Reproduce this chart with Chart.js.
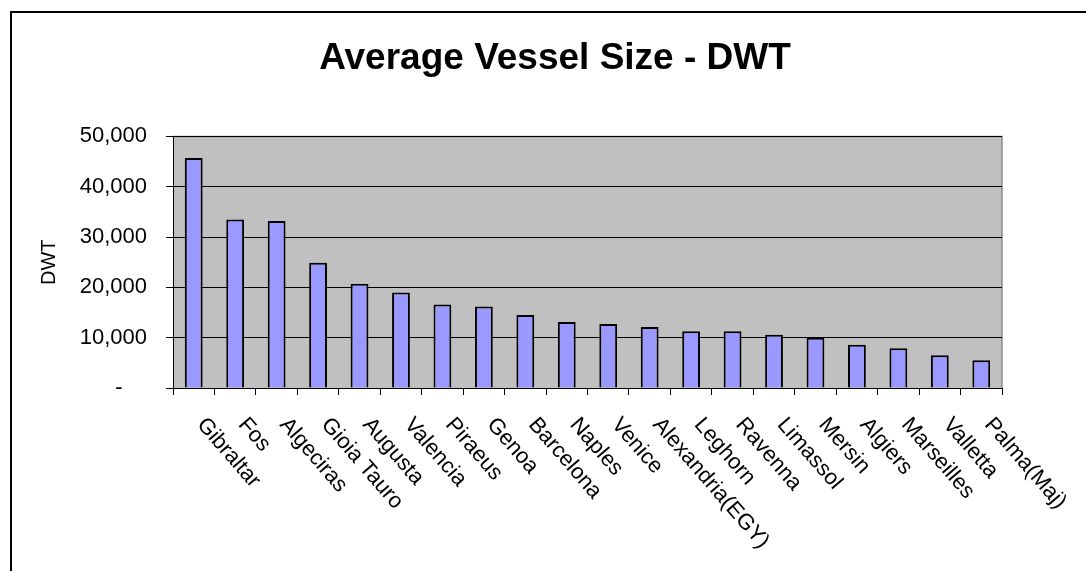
<!DOCTYPE html>
<html>
<head>
<meta charset="utf-8">
<title>Average Vessel Size - DWT</title>
<script src="https://cdn.jsdelivr.net/npm/chart.js@4"></script>
<style>
    html, body { margin: 0; padding: 0; background: #fff; overflow: hidden; }
    canvas { display: block; }
</style>
</head>
<body>
<canvas id="dwtChart" width="1086" height="571"></canvas>
<script>
// Ports and average vessel size
const ports = ["Gibraltar", "Fos", "Algeciras", "Gioia Tauro", "Augusta", "Valencia", "Piraeus", "Genoa",
    "Barcelona", "Naples", "Venice", "Alexandria(EGY)", "Leghorn", "Ravenna", "Limassol", "Mersin",
    "Algiers", "Marseilles", "Valletta", "Palma(Maj)"];
const avgDwt = [45700, 33500, 33200, 24900, 20700, 19000, 16600, 16200,
    14500, 13100, 12700, 12100, 11300, 11300, 10600, 10000,
    8600, 7900, 6500, 5500];
const yTicks = [0, 10000, 20000, 30000, 40000, 50000];

const FONT = "'Liberation Sans', Arial, Helvetica, sans-serif";
Chart.defaults.font.family = FONT;
Chart.defaults.color = '#000';

// white page, outer chart frame and the grey plot area (Excel look)
const frame = {
    id: 'frame',
    beforeDraw(chart) {
        const ctx = chart.ctx;
        const a = chart.chartArea;
        ctx.save();
        ctx.fillStyle = '#fff';
        ctx.fillRect(0, 0, chart.width, chart.height);
        ctx.strokeStyle = '#000';
        ctx.lineWidth = 2;
        ctx.beginPath();
        ctx.moveTo(11, chart.height + 5);
        ctx.lineTo(11, 12);
        ctx.lineTo(chart.width + 5, 12);
        ctx.stroke();
        ctx.fillStyle = '#c0c0c0';
        ctx.fillRect(a.left, a.top, a.right - a.left, a.bottom - a.top);
        ctx.strokeStyle = '#8c8c8c';
        ctx.lineWidth = 1.5;
        ctx.beginPath();
        ctx.moveTo(a.left, a.top);
        ctx.lineTo(a.right, a.top);
        ctx.lineTo(a.right, a.bottom);
        ctx.stroke();
        ctx.restore();
    }
};

// category labels slanted downwards like the original
const slantLabels = {
    id: 'slantLabels',
    afterDraw(chart) {
        const ctx = chart.ctx;
        const xs = chart.scales.x;
        ctx.save();
        ctx.font = '22px ' + FONT;
        ctx.fillStyle = '#000';
        ctx.textAlign = 'left';
        ctx.textBaseline = 'middle';
        ports.forEach((name, i) => {
            ctx.save();
            ctx.translate(xs.getPixelForValue(i) + 7, 421);
            ctx.rotate(49 * Math.PI / 180);
            ctx.fillText(name, 0, 0);
            ctx.restore();
        });
        ctx.restore();
    }
};

new Chart(document.getElementById('dwtChart'), {
    type: 'bar',
    data: {
        labels: ports,
        datasets: [{
            label: 'DWT',
            data: avgDwt,
            backgroundColor: '#9999ff',
            borderColor: '#000',
            borderWidth: 2,
            barPercentage: 0.43,
            categoryPercentage: 1
        }]
    },
    options: {
        responsive: false,
        animation: false,
        devicePixelRatio: 1,
        layout: { padding: { left: 24, right: 0, top: 0, bottom: 0 } },
        plugins: {
            legend: { display: false },
            tooltip: { enabled: false },
            title: {
                display: true,
                text: 'Average Vessel Size - DWT',
                color: '#000',
                font: { size: 37, weight: 'bold', family: FONT },
                padding: { top: 37, bottom: 55 }
            }
        },
        scales: {
            x: {
                grid: { display: true, offset: true, drawOnChartArea: false, color: '#000', tickLength: 7 },
                border: { display: true, color: '#000', width: 1 },
                ticks: { display: false },
                afterFit: s => { s.height = 571 - 388; }
            },
            y: {
                min: 0,
                max: 50000,
                afterBuildTicks: s => { s.ticks = yTicks.map(v => ({ value: v })); },
                grid: { color: '#000', lineWidth: 1, tickLength: 7 },
                border: { display: true, color: '#000', width: 1 },
                ticks: {
                    padding: 19,
                    font: { size: 22 },
                    callback: v => v === 0 ? '-    ' : v.toLocaleString('en-US')
                },
                title: { display: true, text: 'DWT', font: { size: 20 }, padding: { top: 13, bottom: 0 } },
                afterFit: s => { s.width = 173 - 24; }
            },
            // empty box on the right so the plot stops where the original one does
            spacer: {
                type: 'linear',
                position: 'right',
                display: true,
                grid: { display: false },
                border: { display: false },
                ticks: { display: false },
                afterFit: s => { s.width = 1086 - 1002; }
            }
        }
    },
    plugins: [frame, slantLabels]
});
</script>
</body>
</html>
